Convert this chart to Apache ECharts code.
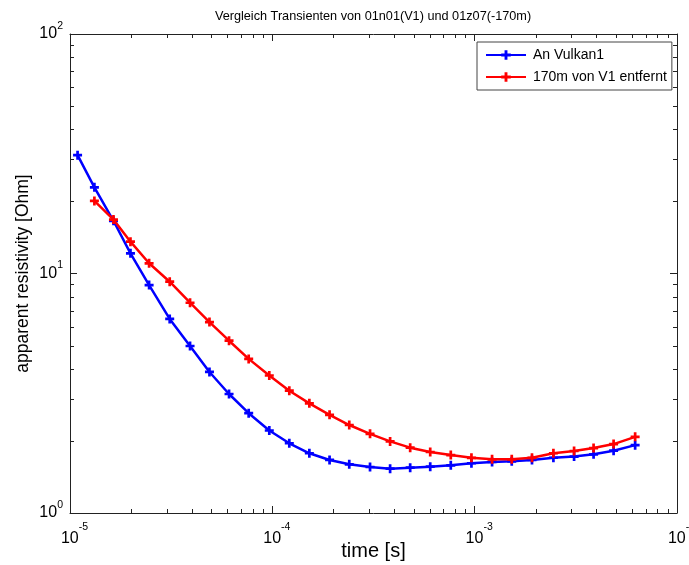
<!DOCTYPE html>
<html><head><meta charset="utf-8">
<script src="https://cdn.jsdelivr.net/npm/echarts@6/dist/echarts.min.js"></script>
<style>html,body{margin:0;padding:0;background:#fff}#c{width:689px;height:565px}</style>
</head><body><div id="c"></div>
<script>
// ---- data ----
const timesBlue = [1.09e-5, 1.32e-5, 1.64e-5, 1.99e-5, 2.46e-5, 3.11e-5, 3.92e-5, 4.89e-5, 6.11e-5, 7.64e-5,
  9.66e-5, 1.213e-4, 1.524e-4, 1.918e-4, 2.40e-4, 3.04e-4, 3.82e-4, 4.80e-4, 6.03e-4, 7.62e-4,
  9.64e-4, 1.219e-3, 1.525e-3, 1.92e-3, 2.45e-3, 3.10e-3, 3.87e-3, 4.86e-3, 6.21e-3];
const rhoBlue = [31.2, 22.9, 16.6, 12.14, 8.95, 6.46, 4.98, 3.88, 3.14, 2.61,
  2.21, 1.955, 1.776, 1.665, 1.597, 1.556, 1.531, 1.546, 1.561, 1.582,
  1.613, 1.633, 1.643, 1.665, 1.701, 1.72, 1.758, 1.82, 1.92];
const timesRed = [1.32e-5, 1.64e-5, 1.99e-5, 2.46e-5, 3.11e-5, 3.92e-5, 4.89e-5, 6.11e-5, 7.64e-5,
  9.66e-5, 1.213e-4, 1.524e-4, 1.918e-4, 2.40e-4, 3.04e-4, 3.82e-4, 4.80e-4, 6.03e-4, 7.62e-4,
  9.64e-4, 1.219e-3, 1.525e-3, 1.92e-3, 2.45e-3, 3.10e-3, 3.87e-3, 4.86e-3, 6.21e-3];
const rhoRed = [20.1, 16.8, 13.58, 11.03, 9.24, 7.55, 6.27, 5.24, 4.40,
  3.75, 3.24, 2.87, 2.57, 2.33, 2.14, 1.99, 1.874, 1.798, 1.746,
  1.70, 1.675, 1.675, 1.70, 1.776, 1.815, 1.867, 1.94, 2.08];
const seriesNames = ['An Vulkan1', '170m von V1 entfernt'];
const titleText = 'Vergleich Transienten von 01n01(V1) und 01z07(-170m)';
const xName = 'time [s]';
const yName = 'apparent resistivity [Ohm]';
const xTickExponents = ['-5', '-4', '-3', '-2'];
const yTickExponents = ['0', '1', '2'];
const xRange = [1e-5, 1e-2];
const yRange = [1, 100];
const minorMultipliers = [2, 3, 4, 5, 6, 7, 8, 9];
const xDecades = [1e-5, 1e-4, 1e-3];
const yDecades = [1, 10];

// ---- styling ----
const FONT = '"Liberation Sans", Arial, Helvetica, sans-serif';
const AXIS_COLOR = '#222';
const MINOR_LEN = 4;
const PLUS = 'path://M3.5,0H6.5V3.5H10V6.5H6.5V10H3.5V6.5H0V3.5H3.5Z';

const zip = (xs, ys) => xs.map((x, i) => [x, ys[i]]);
const expOf = v => Math.round(Math.log10(v));
const xMinor = [];
xDecades.forEach(d => minorMultipliers.forEach(m => xMinor.push([d * m, yRange[0]])));
const yMinor = [];
yDecades.forEach(d => minorMultipliers.forEach(m => yMinor.push([xRange[0], d * m])));

const lineStyleFor = c => ({color: c, width: 2.5});

const baseAxis = {
  type: 'log', logBase: 10,
  axisLine: {show: true, lineStyle: {color: AXIS_COLOR, width: 1}},
  axisTick: {show: true, inside: true, length: 7, lineStyle: {color: AXIS_COLOR}},
  splitLine: {show: false},
  minorTick: {show: false}
};

const xLabel = {
  show: true, margin: 9, color: '#000', fontFamily: FONT,
  formatter: v => {
    const e = expOf(v);
    const s = xTickExponents.find(t => Number(t) === e) || String(e);
    return '{s|}{b|10}{e|' + s + '}';
  },
  rich: {
    s: {width: 9, fontSize: 10, lineHeight: 34},
    b: {fontSize: 16, lineHeight: 34, fontFamily: FONT, color: '#000'},
    e: {fontSize: 10.5, lineHeight: 10, padding: [0, 0, 24, 0], fontFamily: FONT, color: '#000'}
  }
};
const yLabel = {
  show: true, margin: 7, color: '#000', fontFamily: FONT,
  formatter: v => {
    const e = expOf(v);
    const s = yTickExponents.find(t => Number(t) === e) || String(e);
    return '{b|10}{e|' + s + '}';
  },
  rich: {
    b: {fontSize: 16, lineHeight: 26, fontFamily: FONT, color: '#000'},
    e: {fontSize: 10.5, lineHeight: 10, padding: [0, 0, 16, 0], fontFamily: FONT, color: '#000'}
  }
};

function renderXMinor(params, api) {
  const v = api.value(0);
  const b = api.coord([v, yRange[0]]);
  const t = api.coord([v, yRange[1]]);
  const x = Math.round(b[0]) + 0.5;
  return {type: 'group', children: [
    {type: 'line', shape: {x1: x, y1: b[1], x2: x, y2: b[1] - MINOR_LEN}, style: {stroke: AXIS_COLOR, lineWidth: 1}},
    {type: 'line', shape: {x1: x, y1: t[1], x2: x, y2: t[1] + MINOR_LEN}, style: {stroke: AXIS_COLOR, lineWidth: 1}}
  ]};
}
function renderYMinor(params, api) {
  const v = api.value(1);
  const l = api.coord([xRange[0], v]);
  const r = api.coord([xRange[1], v]);
  const y = Math.round(l[1]) + 0.5;
  return {type: 'group', children: [
    {type: 'line', shape: {x1: l[0], y1: y, x2: l[0] + MINOR_LEN, y2: y}, style: {stroke: AXIS_COLOR, lineWidth: 1}},
    {type: 'line', shape: {x1: r[0], y1: y, x2: r[0] - MINOR_LEN, y2: y}, style: {stroke: AXIS_COLOR, lineWidth: 1}}
  ]};
}

const chart = echarts.init(document.getElementById('c'), null, {renderer: 'canvas'});
chart.setOption({
  animation: false,
  backgroundColor: '#fff',
  textStyle: {fontFamily: FONT},
  title: {
    text: titleText, left: 368, top: 5, textAlign: 'center',
    textStyle: {fontSize: 12.7, fontWeight: 'normal', color: '#000', fontFamily: FONT}
  },
  legend: {
    data: seriesNames, orient: 'vertical', left: 477, top: 42,
    backgroundColor: '#fff', borderColor: '#444', borderWidth: 1, borderRadius: 0,
    padding: [6, 5, 6, 8], itemWidth: 40, itemHeight: 12, itemGap: 8,
    textStyle: {fontFamily: FONT, fontSize: 14, lineHeight: 14, color: '#000', padding: [0, 0, 0, 2]}
  },
  grid: {left: 70, right: 12, top: 34, bottom: 52, containLabel: false, outerBoundsMode: 'none'},
  xAxis: [
    Object.assign({}, baseAxis, {
      min: xRange[0], max: xRange[1], position: 'bottom', axisLabel: xLabel,
      name: xName, nameLocation: 'middle', nameGap: 28, nameMoveOverlap: false,
      nameTextStyle: {fontSize: 20, color: '#000', fontFamily: FONT}
    }),
    Object.assign({}, baseAxis, {min: xRange[0], max: xRange[1], position: 'top', axisLabel: {show: false}})
  ],
  yAxis: [
    Object.assign({}, baseAxis, {
      min: yRange[0], max: yRange[1], position: 'left', axisLabel: yLabel,
      name: yName, nameLocation: 'middle', nameGap: 38, nameRotate: 90, nameMoveOverlap: false,
      nameTextStyle: {fontSize: 17.5, color: '#000', fontFamily: FONT}
    }),
    Object.assign({}, baseAxis, {min: yRange[0], max: yRange[1], position: 'right', axisLabel: {show: false}})
  ],
  series: [
    {
      type: 'custom', name: 'xminor', xAxisIndex: 0, yAxisIndex: 0, silent: true, clip: false,
      renderItem: renderXMinor, data: xMinor, encode: {x: 0, y: 1}, z: 1
    },
    {
      type: 'custom', name: 'yminor', xAxisIndex: 0, yAxisIndex: 0, silent: true, clip: false,
      renderItem: renderYMinor, data: yMinor, encode: {x: 0, y: 1}, z: 1
    },
    {
      type: 'line', name: seriesNames[0], data: zip(timesBlue, rhoBlue),
      symbol: PLUS, symbolSize: 9, showSymbol: true,
      itemStyle: {color: '#0000ff'}, lineStyle: lineStyleFor('#0000ff'), z: 3
    },
    {
      type: 'line', name: seriesNames[1], data: zip(timesRed, rhoRed),
      symbol: PLUS, symbolSize: 9, showSymbol: true,
      itemStyle: {color: '#ff0000'}, lineStyle: lineStyleFor('#ff0000'), z: 4
    }
  ]
});
</script>
</body></html>
